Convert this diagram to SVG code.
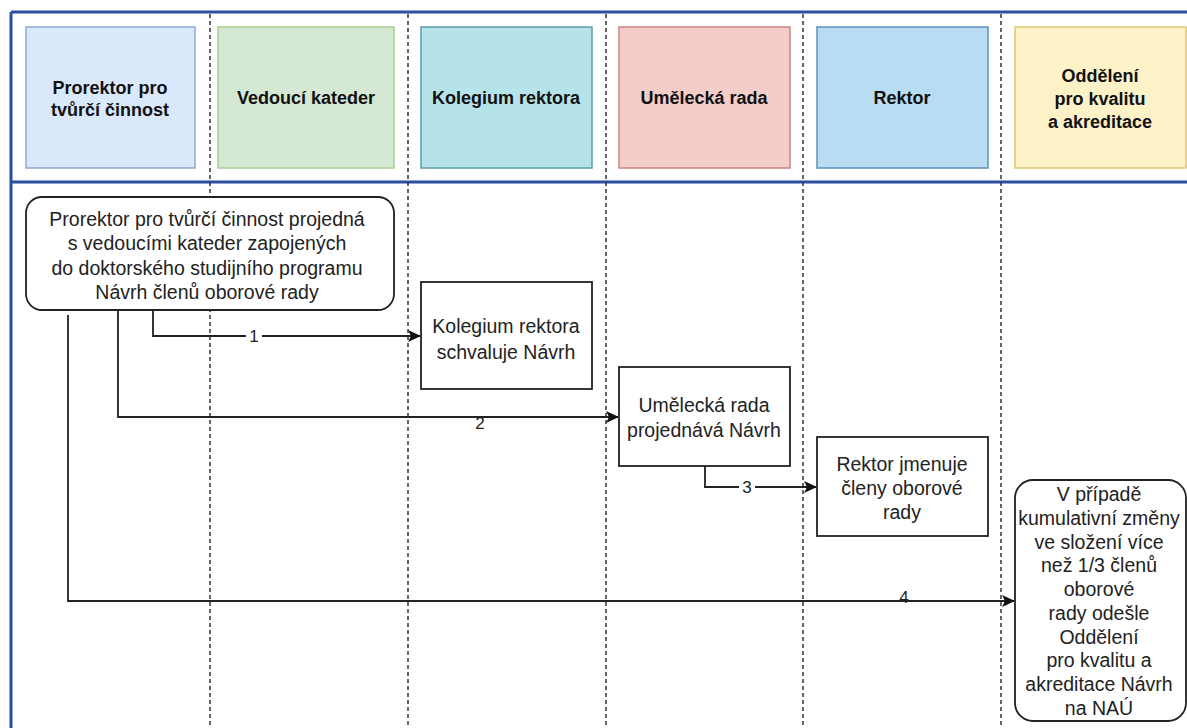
<svg xmlns="http://www.w3.org/2000/svg" width="1187" height="728" viewBox="0 0 1187 728">
<style>
.frame{fill:none;stroke:#2a4fa0;stroke-width:3}
.lane{stroke:#333;stroke-width:1.5;stroke-dasharray:4 3;fill:none}
.hdr{stroke-width:1.5}
.ht{font-family:"Liberation Sans",Arial,sans-serif;font-size:18px;font-weight:bold;fill:#111;text-anchor:middle}
.box{fill:#fff;stroke:#222;stroke-width:1.8}
.bt{font-family:"Liberation Sans",Arial,sans-serif;font-size:19.5px;fill:#222;text-anchor:middle}
.con{fill:none;stroke:#222;stroke-width:1.8}
.lbl{font-family:"Liberation Sans",Arial,sans-serif;font-size:17px;fill:#222;text-anchor:middle}
</style>
<defs>
<marker id="arr" markerWidth="13" markerHeight="12" refX="12" refY="6" orient="auto" markerUnits="userSpaceOnUse">
<path d="M0,0 L13,6 L0,12 L3,6 Z" fill="#111"/>
</marker>
</defs>
<rect width="1187" height="728" fill="#fff"/>
<g id="frame">
<line x1="11" y1="12" x2="1187" y2="12" class="frame"/>
<line x1="11" y1="12" x2="11" y2="728" class="frame"/>
<line x1="11" y1="182" x2="1187" y2="182" class="frame"/>
</g>
<g id="lanes">
<line x1="210" y1="14" x2="210" y2="728" class="lane"/>
<line x1="408" y1="14" x2="408" y2="728" class="lane"/>
<line x1="606" y1="14" x2="606" y2="728" class="lane"/>
<line x1="803" y1="14" x2="803" y2="728" class="lane"/>
<line x1="1001" y1="14" x2="1001" y2="728" class="lane"/>
</g>
<g id="h1"><rect x="26" y="27" width="169" height="141" fill="#dae8fc" stroke="#8fa9d6" class="hdr"/><text class="ht" x="110" y="94">Prorektor pro</text><text class="ht" x="110" y="116">tvůrčí činnost</text></g>
<g id="h2"><rect x="218" y="27" width="176" height="141" fill="#d5e8d4" stroke="#a7cf91" class="hdr"/><text class="ht" x="306" y="104">Vedoucí kateder</text></g>
<g id="h3"><rect x="421" y="27" width="171" height="141" fill="#b6e3e9" stroke="#5aa0a8" class="hdr"/><text class="ht" x="506" y="104">Kolegium rektora</text></g>
<g id="h4"><rect x="619" y="27" width="171" height="141" fill="#f4cdca" stroke="#c9857f" class="hdr"/><text class="ht" x="704" y="104">Umělecká rada</text></g>
<g id="h5"><rect x="817" y="27" width="171" height="141" fill="#b8dcf1" stroke="#5c93bd" class="hdr"/><text class="ht" x="902" y="104">Rektor</text></g>
<g id="h6"><rect x="1015" y="27" width="171" height="141" fill="#fdf1c8" stroke="#dcc773" class="hdr"/><text class="ht" x="1100" y="82">Oddělení</text><text class="ht" x="1100" y="105">pro kvalitu</text><text class="ht" x="1100" y="128">a akreditace</text></g>
<g id="connectors">
<polyline points="153,310 153,336 420,336" class="con" marker-end="url(#arr)"/>
<polyline points="118,310 118,417 618,417" class="con" marker-end="url(#arr)"/>
<polyline points="705,466 705,487 816,487" class="con" marker-end="url(#arr)"/>
<polyline points="68,315 68,601 1014,601" class="con" marker-end="url(#arr)"/>
<rect x="246" y="327" width="16" height="18" fill="#fff"/><text class="lbl" x="254" y="342">1</text>
<text class="lbl" x="480" y="429">2</text>
<rect x="739" y="478" width="16" height="18" fill="#fff"/><text class="lbl" x="747" y="493">3</text>
<rect x="896" y="588" width="16" height="12" fill="#fff"/><text class="lbl" x="904" y="603">4</text>
</g>
<g id="n1"><rect x="26" y="197" width="368" height="113" rx="16" class="box"/>
<text class="bt" x="207" y="226">Prorektor pro tvůrčí činnost projedná</text>
<text class="bt" x="207" y="250">s vedoucími kateder zapojených</text>
<text class="bt" x="207" y="275">do doktorského studijního programu</text>
<text class="bt" x="207" y="299">Návrh členů oborové rady</text></g>
<g id="n2"><rect x="421" y="282" width="171" height="107" class="box"/>
<text class="bt" x="506" y="333">Kolegium rektora</text><text class="bt" x="506" y="359">schvaluje Návrh</text></g>
<g id="n3"><rect x="619" y="367" width="171" height="99" class="box"/>
<text class="bt" x="704" y="412">Umělecká rada</text><text class="bt" x="704" y="437">projednává Návrh</text></g>
<g id="n4"><rect x="817" y="437" width="171" height="99" class="box"/>
<text class="bt" x="902" y="471">Rektor jmenuje</text><text class="bt" x="902" y="495">členy oborové</text><text class="bt" x="902" y="519">rady</text></g>
<g id="n5"><rect x="1015" y="480" width="171" height="241" rx="18" class="box"/>
<text class="bt" x="1099" y="501">V případě</text>
<text class="bt" x="1099" y="525">kumulativní změny</text>
<text class="bt" x="1099" y="549">ve složení více</text>
<text class="bt" x="1099" y="572">než 1/3 členů</text>
<text class="bt" x="1099" y="596">oborové</text>
<text class="bt" x="1099" y="620">rady odešle</text>
<text class="bt" x="1099" y="644">Oddělení</text>
<text class="bt" x="1099" y="667">pro kvalitu a</text>
<text class="bt" x="1099" y="691">akreditace Návrh</text>
<text class="bt" x="1099" y="715">na NAÚ</text></g>
</svg>
